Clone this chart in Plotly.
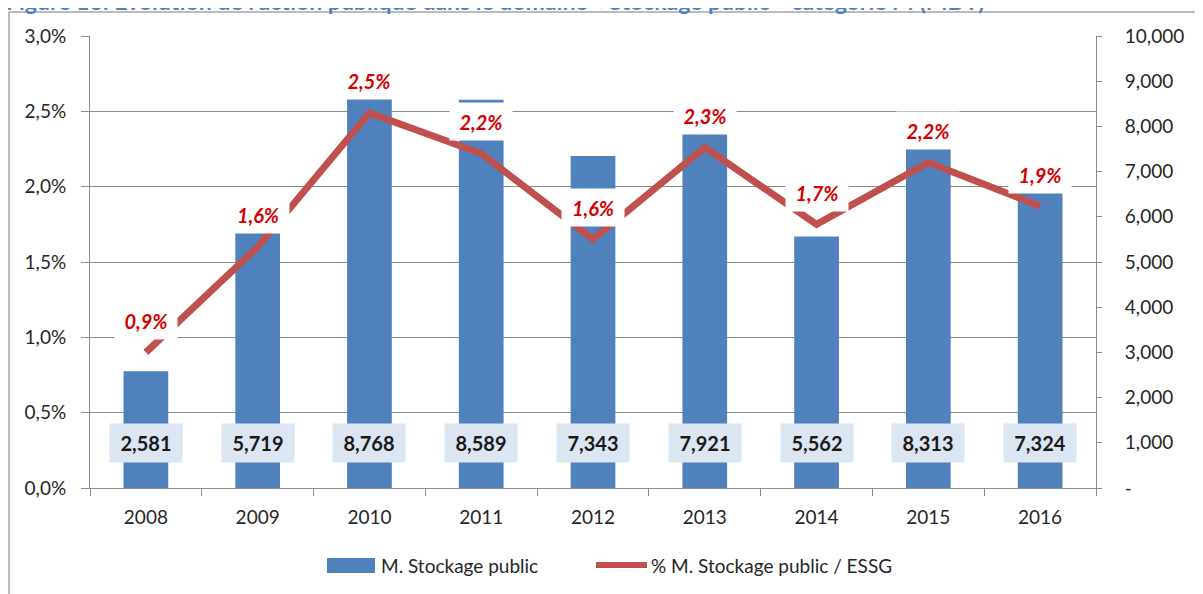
import plotly.graph_objects as go

years = ["2008", "2009", "2010", "2011", "2012", "2013", "2014", "2015", "2016"]
stockage = [2581, 5719, 8768, 8589, 7343, 7921, 5562, 8313, 7324]
pct = [0.90, 1.60, 2.49, 2.22, 1.65, 2.26, 1.75, 2.16, 1.87]
pct_labels = ["0,9%", "1,6%", "2,5%", "2,2%", "1,6%", "2,3%", "1,7%", "2,2%", "1,9%"]
left_ticks = [0, 0.5, 1.0, 1.5, 2.0, 2.5, 3.0]
left_text = ["0,0%", "0,5%", "1,0%", "1,5%", "2,0%", "2,5%", "3,0%"]
right_ticks = [0, 1000, 2000, 3000, 4000, 5000, 6000, 7000, 8000, 9000, 10000]
right_text = ["-", "1,000", "2,000", "3,000", "4,000", "5,000", "6,000", "7,000", "8,000", "9,000", "10,000"]
bar_name = "M. Stockage public"
line_name = "% M. Stockage public / ESSG"
title = "Figure 13: Évolution de l'action publique dans le domaine « Stockage public » catégorie M (MDT)"

FONT = "Lato"
BLUE = "#4f81bd"
RED = "#c0504d"
GRID = "#8c8c8c"
TXT = "#262626"

# screen layout helpers (page body offsets the figure by 8px)
PL, PT, PW, PH = 90, 36, 1006, 452


def px(sx):
    return (sx - PL) / PW


def py(sy):
    return (PT + PH - sy) / PH


fig = go.Figure()
fig.add_trace(go.Bar(
    x=years, y=stockage, name=bar_name, marker=dict(color=BLUE, line=dict(width=0)),
    width=0.4, yaxis="y", showlegend=False,
))
fig.add_trace(go.Scatter(
    x=years, y=pct, name=line_name, mode="lines",
    line=dict(color=RED, width=7), yaxis="y2", showlegend=False,
))

annotations = []
for i, (v, lab) in enumerate(zip(pct, pct_labels)):
    annotations.append(dict(
        x=i, y=v, xref="x", yref="y2", text="<b><i>" + lab + "</i></b>", showarrow=False,
        yshift=32, bgcolor="white", width=60, height=35,
        font=dict(family=FONT, size=20, color="#d40000"),
    ))
for i, v in enumerate(stockage):
    annotations.append(dict(
        x=i, y=py(463), xref="x", yref="paper", text="<b>" + f"{v:,}" + "</b>", showarrow=False,
        bgcolor="#dce6f2", width=70, height=36,
        font=dict(family=FONT, size=20, color="#1a1a1a"),
    ))
annotations.append(dict(
    x=px(4), y=py(1.5), xref="paper", yref="paper", xanchor="left", yanchor="middle",
    text="<b>" + title + "</b>",
    showarrow=False, font=dict(family=FONT, size=23, color=BLUE),
))
# legend texts
annotations.append(dict(x=px(379), y=py(565), xref="paper", yref="paper", xanchor="left", yanchor="middle",
                        text=bar_name, showarrow=False, font=dict(family=FONT, size=19, color=TXT)))
annotations.append(dict(x=px(649), y=py(565), xref="paper", yref="paper", xanchor="left", yanchor="middle",
                        text=line_name, showarrow=False, font=dict(family=FONT, size=19, color=TXT)))

shapes = [
    dict(type="rect", xref="paper", yref="paper", x0=px(9), x1=px(1200), y0=py(620), y1=py(12),
         line=dict(color="#a6a6a6", width=1.5), fillcolor="rgba(0,0,0,0)", layer="below"),
    dict(type="rect", xref="paper", yref="paper", x0=px(327), x1=px(375), y0=py(573), y1=py(558),
         line=dict(width=0), fillcolor=BLUE),
    dict(type="line", xref="paper", yref="paper", x0=px(596), x1=px(647), y0=py(565), y1=py(565),
         line=dict(color=RED, width=6)),
]

fig.update_layout(
    width=1203, height=594,
    margin=dict(l=PL - 8, r=1203 - (PL - 8) - PW, t=PT - 8, b=594 - (PT - 8) - PH),
    paper_bgcolor="white", plot_bgcolor="white",
    font=dict(family=FONT, size=19, color=TXT),
    showlegend=False,
    xaxis=dict(type="category", range=[-0.5, 8.5], showgrid=False, showline=True, linecolor=GRID, linewidth=1,
               ticks="outside", tickson="boundaries", ticklen=7, tickcolor=GRID,
               tickfont=dict(size=19, color=TXT), ticklabelstandoff=12),
    yaxis=dict(side="right", range=[0, 10000], tickvals=right_ticks, ticktext=right_text,
               showgrid=False, showline=True, linecolor=GRID, linewidth=1,
               ticks="outside", ticklen=5, tickcolor=GRID, zeroline=False,
               tickfont=dict(size=19, color=TXT), ticklabelstandoff=19),
    yaxis2=dict(side="left", overlaying="y", range=[0, 3.0], tickvals=left_ticks, ticktext=left_text,
                showgrid=True, gridcolor=GRID, gridwidth=1, showline=True, linecolor=GRID, linewidth=1,
                ticks="outside", ticklen=8, tickcolor=GRID, zeroline=False,
                tickfont=dict(size=19, color=TXT), ticklabelstandoff=11),
    annotations=annotations,
    shapes=shapes,
)

fig.write_html("out.html")
